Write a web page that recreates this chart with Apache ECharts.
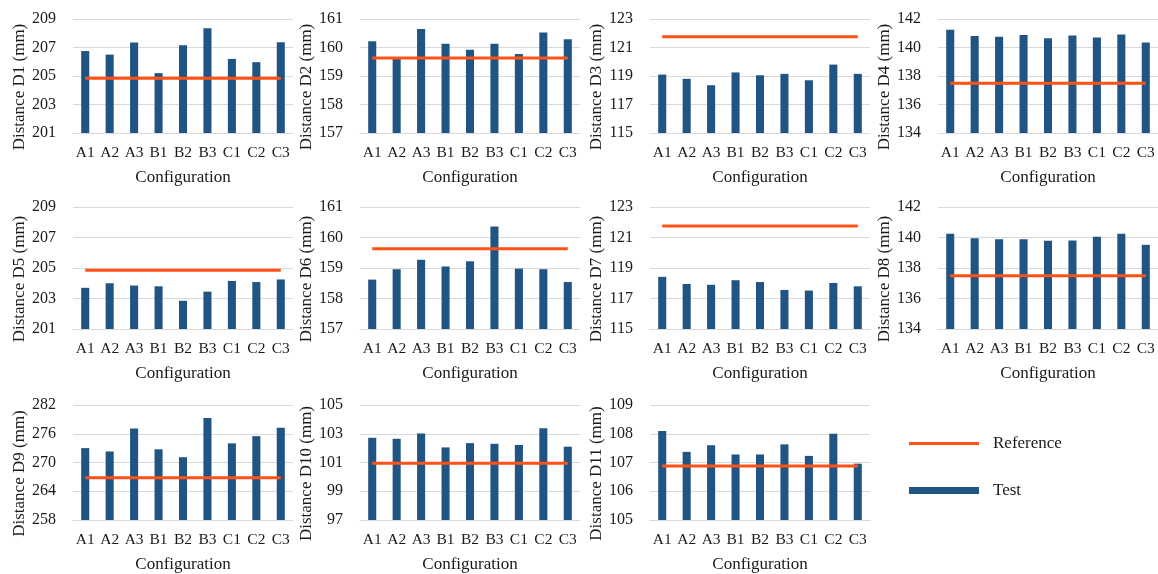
<!DOCTYPE html>
<html><head><meta charset="utf-8">
<script src="https://cdn.jsdelivr.net/npm/echarts@6/dist/echarts.min.js"></script>
<style>html,body{margin:0;padding:0;background:#fff}#c{width:1158px;height:574px}</style>
</head><body><div id="c"></div>
<script>
const categories = ['A1','A2','A3','B1','B2','B3','C1','C2','C3'];
const axisTitles = ['Distance D1 (mm)','Distance D2 (mm)','Distance D3 (mm)','Distance D4 (mm)',
  'Distance D5 (mm)','Distance D6 (mm)','Distance D7 (mm)','Distance D8 (mm)',
  'Distance D9 (mm)','Distance D10 (mm)','Distance D11 (mm)'];
const yMin  = [201, 157, 115, 134, 201, 157, 115, 134, 258, 97, 105];
const yMax  = [209, 161, 123, 142, 209, 161, 123, 142, 282, 105, 109];
const yStep = [2, 1, 2, 2, 2, 1, 2, 2, 6, 2, 1];
const referenceValues = [204.85, 159.63, 121.75, 137.5, 204.85, 159.63, 121.75, 137.5, 266.8, 100.95, 106.88];
const testD1  = [206.75, 206.5, 207.35, 205.2, 207.15, 208.35, 206.2, 205.97, 207.37];
const testD2  = [160.22, 159.6, 160.65, 160.13, 159.92, 160.13, 159.77, 160.53, 160.29];
const testD3  = [119.1, 118.8, 118.35, 119.25, 119.05, 119.15, 118.7, 119.8, 119.15];
const testD4  = [141.25, 140.8, 140.75, 140.88, 140.65, 140.85, 140.7, 140.92, 140.35];
const testD5  = [203.7, 204.0, 203.85, 203.8, 202.85, 203.45, 204.15, 204.08, 204.25];
const testD6  = [158.62, 158.96, 159.27, 159.05, 159.22, 160.36, 158.98, 158.96, 158.54];
const testD7  = [118.42, 117.95, 117.9, 118.2, 118.08, 117.56, 117.52, 118.02, 117.8];
const testD8  = [140.25, 139.95, 139.88, 139.88, 139.78, 139.8, 140.05, 140.25, 139.52];
const testD9  = [273.0, 272.3, 277.1, 272.75, 271.1, 279.3, 274.0, 275.5, 277.25];
const testD10 = [102.72, 102.65, 103.02, 102.05, 102.35, 102.3, 102.22, 103.38, 102.1];
const testD11 = [108.1, 107.37, 107.6, 107.28, 107.28, 107.63, 107.23, 108.0, 106.96];
const testSeries = [testD1,testD2,testD3,testD4,testD5,testD6,testD7,testD8,testD9,testD10,testD11];

const FONT = 'Liberation Serif';
const BAR = '#205482';
const REF = '#FF5216';
const colLeft = [73, 360, 650, 938];
const rowTop = [19, 207, 405];
const rowH = [114, 122, 115];
const W = 220;

const grid = [], xAxis = [], yAxis = [], series = [];
testSeries.forEach((vals, i) => {
  const r = Math.floor(i / 4), c = i % 4;
  grid.push({left: colLeft[c], top: rowTop[r], width: W, height: rowH[r], containLabel: false});
  xAxis.push({
    type: 'category', gridIndex: i, data: categories,
    axisTick: {show: false},
    axisLine: {show: true, lineStyle: {color: '#d9d9d9'}},
    axisLabel: {fontFamily: FONT, fontSize: 15.5, color: '#1a1a1a', margin: 12, interval: 0},
    name: 'Configuration', nameLocation: 'middle', nameGap: 36,
    nameTextStyle: {fontFamily: FONT, fontSize: 17, color: '#1a1a1a'}
  });
  yAxis.push({
    type: 'value', gridIndex: i, min: yMin[i], max: yMax[i], interval: yStep[i],
    axisLine: {show: false}, axisTick: {show: false},
    splitLine: {show: true, lineStyle: {color: '#d9d9d9', width: 1}},
    axisLabel: {fontFamily: FONT, fontSize: 16, color: '#1a1a1a', margin: 17},
    name: axisTitles[i], nameLocation: 'middle', nameGap: 44, nameRotate: 90,
    nameTextStyle: {fontFamily: FONT, fontSize: 17, color: '#1a1a1a', padding: [0, 22, 0, 0]}
  });
  series.push({
    name: 'Test', type: 'bar', xAxisIndex: i, yAxisIndex: i, data: vals,
    barWidth: '33%', itemStyle: {color: BAR}, silent: true
  });
  series.push({
    name: 'Reference', type: 'line', xAxisIndex: i, yAxisIndex: i,
    data: categories.map(() => referenceValues[i]),
    symbol: 'none', lineStyle: {color: REF, width: 3}, itemStyle: {color: REF}, silent: true, z: 5
  });
});

const chart = echarts.init(document.getElementById('c'), null, {renderer: 'canvas'});
chart.setOption({
  animation: false,
  backgroundColor: '#fff',
  grid, xAxis, yAxis, series,
  legend: [
    {data: [{name: 'Reference', icon: 'rect'}], left: 904, top: 430, itemWidth: 70, itemHeight: 3,
     selectedMode: false, textStyle: {fontFamily: FONT, fontSize: 17, color: '#1a1a1a', padding: [0, 0, 0, 9]}},
    {data: [{name: 'Test', icon: 'rect'}], left: 904, top: 477, itemWidth: 70, itemHeight: 7,
     selectedMode: false, textStyle: {fontFamily: FONT, fontSize: 17, color: '#1a1a1a', padding: [0, 0, 0, 9]}}
  ]
});
</script></body></html>
